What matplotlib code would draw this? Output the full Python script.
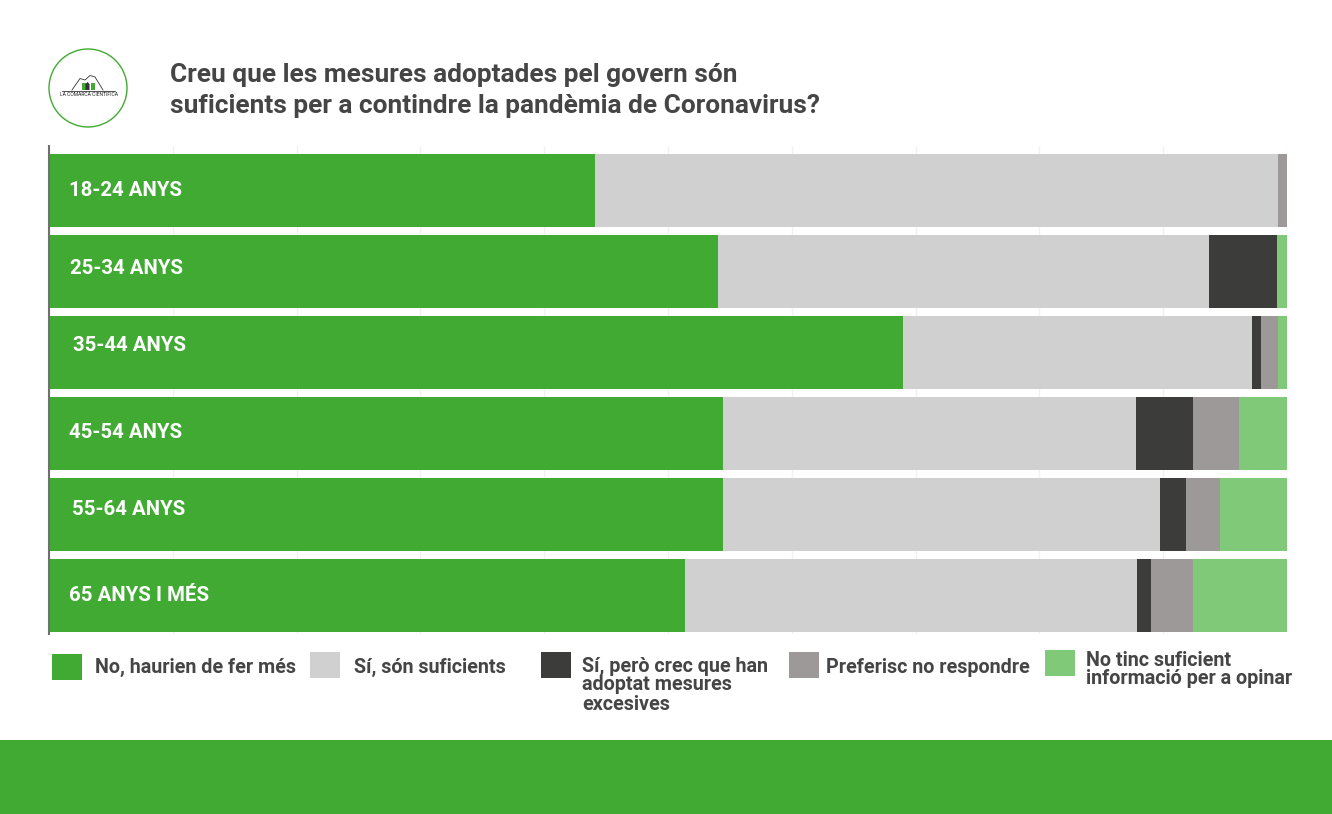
import pandas as pd
import matplotlib
matplotlib.use('Agg')
import matplotlib.pyplot as plt
from matplotlib.patches import Rectangle, Circle, Polygon

plt.rcParams['font.family'] = ['Roboto', 'DejaVu Sans']

W, H = 1332, 814
GREEN = '#41aa33'
TEXT = '#454545'

df = pd.DataFrame(
    {'No, haurien de fer més': [44.1, 54.0, 69.0, 54.45, 54.45, 51.4],
     'Sí, són suficients': [55.2, 39.7, 28.2, 33.35, 35.3, 36.5],
     'Sí, però crec que han adoptat mesures excesives': [0, 5.5, 0.7, 4.6, 2.1, 1.1],
     'Preferisc no respondre': [0.7, 0, 1.4, 3.7, 2.75, 3.4],
     'No tinc suficient informació per a opinar': [0, 0.8, 0.7, 3.9, 5.4, 7.6]},
    index=['18-24 ANYS', '25-34 ANYS', '35-44 ANYS', '45-54 ANYS', '55-64 ANYS', '65 ANYS I MÉS'])
colors = [GREEN, '#d0d0d0', '#3c3c3b', '#9d9998', '#80c978']

fig = plt.figure(figsize=(W / 100, H / 100), dpi=100, facecolor='white')
ax = fig.add_axes([49 / W, 1 - 634 / H, 1238 / W, 488 / H])

left = [0] * len(df)
for col, color in zip(df.columns, colors):
    ax.barh(range(len(df)), df[col], left=left, height=0.9, color=color, zorder=3)
    left = [a + b for a, b in zip(left, df[col])]

ax.set_xlim(0, 100)
ax.set_ylim(5.48, -0.55)
ax.set_xticks(range(0, 101, 10))
ax.grid(axis='x', color='#f1f1f1', lw=1, zorder=0)
ax.tick_params(left=False, bottom=False, labelleft=False, labelbottom=False)
for s in ['top', 'right', 'bottom']:
    ax.spines[s].set_visible(False)
ax.spines['left'].set_color('#707070')
ax.spines['left'].set_linewidth(1.5)
ax.spines['left'].set_zorder(5)

# row labels are not aligned in the original
offsets = [1.65, 1.7, 1.95, 1.65, 1.85, 1.65]
shifts = [0.005, -0.035, -0.085, -0.01, -0.055, 0.01]
for i, name in enumerate(df.index):
    ax.text(offsets[i], i + shifts[i], name, color='white', fontsize=14.65, fontweight='bold',
            va='center', ha='left', zorder=6)


def px_text(x, y, s, **kw):
    kw.setdefault('color', TEXT)
    kw.setdefault('fontweight', 'bold')
    fig.text(x / W, 1 - y / H, s, va='center', ha='left', **kw)


def px_rect(x0, y0, x1, y1, color):
    fig.add_artist(Rectangle((x0 / W, 1 - y1 / H), (x1 - x0) / W, (y1 - y0) / H,
                             transform=fig.transFigure, color=color, lw=0))


px_text(169.5, 75, 'Creu que les mesures adoptades pel govern són', fontsize=18.88)
px_text(169.5, 106, 'suficients per a contindre la pandèmia de Coronavirus?', fontsize=18.88)

# legend
px_rect(52, 654, 82, 680, colors[0])
px_text(95, 667.5, df.columns[0], fontsize=14.2)
px_rect(310, 652, 340, 678, colors[1])
px_text(354, 667.5, df.columns[1], fontsize=14.2)
px_rect(541, 652, 571, 678, colors[2])
px_text(582.5, 666, 'Sí, però crec que han', fontsize=14.2)
px_text(582.5, 685, 'adoptat mesures', fontsize=14.2)
px_text(582.5, 704.5, 'excesives', fontsize=14.2)
px_rect(789, 652, 819, 678, colors[3])
px_text(826, 667.5, df.columns[3], fontsize=14.2)
px_rect(1045, 650, 1075, 676, colors[4])
px_text(1086, 660, 'No tinc suficient', fontsize=14.2)
px_text(1086, 679, 'informació per a opinar', fontsize=14.2)

# footer band
px_rect(0, 740, 1332, 814, GREEN)

# logo
logo = fig.add_axes([0, 0, 1, 1], zorder=10)
logo.set_xlim(0, W)
logo.set_ylim(H, 0)
logo.axis('off')
logo.patch.set_alpha(0)
logo.add_patch(Circle((88, 88), 39, fc='white', ec=GREEN, lw=1))
logo.plot([72, 80, 85, 90, 95, 103], [90, 78.5, 80, 75.5, 77, 90], color='#333333', lw=0.6)
logo.plot([62, 115], [90.5, 90.5], color='#333333', lw=0.6)
logo.add_patch(Rectangle((81.5, 83), 4, 7, color=GREEN, lw=0))
logo.add_patch(Rectangle((90.5, 83), 4, 7, color=GREEN, lw=0))
logo.add_patch(Polygon([(85.5, 90), (85.5, 84), (87.5, 82), (89.5, 84), (89.5, 90)], color='#333333', lw=0))
logo.text(88.5, 95, 'LA COMARCA CIENTÍFICA', fontsize=3.65, color='#222222', ha='center', va='center')

fig.savefig('out.png', dpi=100)
